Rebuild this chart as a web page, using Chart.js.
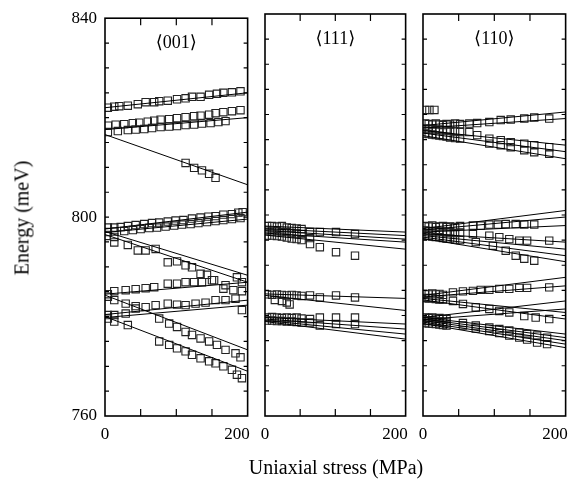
<!DOCTYPE html>
<html>
<head>
<meta charset="utf-8">
<script src="https://cdn.jsdelivr.net/npm/chart.js@4.4.1/dist/chart.umd.min.js"></script>
<style>
  html, body { margin: 0; padding: 0; background: #fff; overflow: hidden; }
  #wrap { position: relative; width: 579px; height: 489px; overflow: hidden; }
  canvas { position: absolute; top: 0; }
  .label { position: absolute; font-family: 'Liberation Serif', 'DejaVu Serif', serif; font-size: 20px; color: #000; white-space: nowrap; }
  #ytitle { left: 22px; top: 218px; transform: translate(-50%, -50%) rotate(-90deg); }
  #xtitle { left: 336px; top: 467px; transform: translate(-50%, -50%); }
</style>
</head>
<body>
<div id="wrap">
  <canvas id="c001" width="279" height="489" style="left:0px"></canvas>
  <canvas id="c111" width="192" height="489" style="left:245px"></canvas>
  <canvas id="c110" width="194" height="489" style="left:403px"></canvas>
  <div class="label" id="ytitle">Energy (meV)</div>
  <div class="label" id="xtitle">Uniaxial stress (MPa)</div>
</div>
<script>
// values: stress in MPa, energy in meV
const panelTitles = ['⟨001⟩', '⟨111⟩', '⟨110⟩'];
const xTickValues = [0, 200];
const xTickLabels = ['0', '200     '];
const yTickValues = [760, 800, 840];
const xMinorTicks = [50, 100, 150];

// fitted lines, energy at 0 MPa and at 200 MPa
const fit001At0   = [822.0, 817.6, 816.6, 797.6, 796.9, 797.1, 796.5, 784.5, 784.3, 780.4, 779.8, 780.0];
const fit001At200 = [825.0, 820.0, 806.5, 801.0, 799.6, 788.3, 786.9, 786.9, 773.3, 783.3, 782.3, 769.0];

const fit111At0   = [797.8, 797.3, 796.9, 796.4, 796.0, 784.3, 784.0, 779.6, 779.3, 779.0, 778.8];
const fit111At200 = [796.6, 795.9, 795.2, 794.6, 793.2, 783.4, 781.0, 778.3, 777.3, 776.3, 775.3];

const fit110At0   = [817.8, 817.3, 816.8, 816.3, 815.8,
                     797.3, 797.0, 796.6, 796.3, 795.9, 795.6, 795.3,
                     784.0, 783.7, 783.4, 783.1,
                     779.6, 779.2, 779.6, 779.3, 779.0, 778.7, 778.4];
const fit110At200 = [820.5, 819.2, 813.9, 812.6, 811.2,
                     800.9, 799.6, 797.9, 794.6, 793.2, 791.9, 790.7,
                     787.6, 785.9, 780.6, 779.3,
                     782.9, 781.3, 776.3, 775.6, 775.0, 774.3, 773.6];

// measured points (squares), one row per branch
const sq001Stress = [
  [4, 13, 20, 32, 46, 57, 69, 76, 88, 101, 113, 122, 134, 146, 157, 166, 178, 190],
  [4, 15, 27, 39, 48, 60, 69, 78, 90, 101, 113, 125, 134, 146, 155, 166, 178, 190],
  [4, 18, 32, 43, 55, 66, 78, 90, 101, 113, 125, 136, 148, 159, 169],
  [113, 125, 136, 146, 155],
  [4, 13, 22, 32, 43, 55, 66, 76, 88, 99, 110, 122, 134, 145, 155, 166, 178, 187, 193],
  [4, 13, 27, 39, 50, 62, 73, 85, 97, 108, 120, 131, 143, 155, 166, 178, 190],
  [2, 13, 13, 32, 46, 57, 71, 88, 101, 113, 122, 134, 143, 153, 169, 185, 192, 166, 180, 192],
  [4, 13, 29, 43, 57, 69, 88, 101, 113, 125, 136, 150],
  [4, 13, 29, 43, 76, 90, 101, 113, 122, 134, 146, 157, 169, 183, 190],
  [4, 13, 29, 43, 57, 71, 88, 101, 113, 127, 141, 155, 169, 183, 192],
  [4, 13, 32, 76, 90, 101, 113, 122, 134, 146, 155, 166, 178, 185, 192]
];
const sq001Energy = [
  [822.0, 822.2, 822.3, 822.4, 822.7, 823.1, 823.1, 823.3, 823.4, 823.7, 823.9, 824.2, 824.2, 824.6, 824.8, 825.0, 825.1, 825.3],
  [818.4, 818.6, 818.7, 818.9, 819.0, 819.2, 819.4, 819.6, 819.7, 819.9, 820.1, 820.3, 820.4, 820.6, 820.9, 821.1, 821.3, 821.5],
  [817.1, 817.3, 817.5, 817.6, 817.7, 817.9, 818.1, 818.2, 818.3, 818.5, 818.6, 818.8, 818.9, 819.1, 819.3],
  [810.9, 809.9, 809.4, 808.7, 807.9],
  [797.9, 797.9, 798.0, 798.2, 798.4, 798.6, 798.8, 798.9, 799.1, 799.3, 799.4, 799.7, 799.9, 800.1, 800.2, 800.5, 800.6, 800.9, 801.0],
  [797.0, 797.1, 797.2, 797.4, 797.6, 797.8, 797.9, 798.1, 798.3, 798.5, 798.6, 798.8, 799.0, 799.2, 799.4, 799.6, 799.8],
  [796.2, 796.0, 794.9, 794.4, 793.3, 793.3, 793.6, 790.9, 791.1, 790.3, 789.9, 788.6, 788.4, 787.3, 786.3, 787.9, 786.9, 785.6, 785.3, 785.1],
  [784.5, 785.1, 785.3, 785.5, 785.7, 785.9, 786.6, 786.6, 786.9, 786.9, 786.9, 787.3],
  [784.0, 783.3, 782.6, 782.1, 779.6, 778.6, 777.9, 776.9, 776.3, 775.6, 775.0, 774.3, 773.3, 772.6, 771.8],
  [780.3, 780.3, 780.6, 781.6, 781.9, 782.3, 782.6, 782.4, 782.3, 782.6, 782.8, 783.3, 783.3, 783.6, 781.3],
  [779.6, 779.0, 778.3, 775.0, 774.3, 773.6, 773.0, 772.3, 771.6, 771.0, 770.6, 770.0, 769.3, 768.3, 767.6]
];

const sq111Stress = [
  [3, 10, 17, 24, 31, 38, 45, 52],
  [3, 10, 17, 24, 31, 38, 45, 52],
  [3, 10, 17, 24, 31, 38, 45, 52],
  [64, 78, 101, 128],
  [64, 78, 101, 128],
  [64],
  [3, 10, 17, 24, 31, 38, 45, 52, 64, 78, 101, 128],
  [14, 24, 31, 35],
  [3, 10, 17, 24, 31, 38, 45, 52],
  [3, 10, 17, 24, 31, 38, 45, 52],
  [64, 78, 101, 128],
  [64, 78, 101, 128]
];
const sq111Energy = [
  [797.8, 797.8, 797.7, 797.8, 797.5, 797.4, 797.3, 797.2],
  [796.9, 796.7, 796.8, 796.6, 796.6, 796.4, 796.3, 796.2],
  [795.9, 795.9, 795.8, 795.7, 795.5, 795.3, 795.2, 795.0],
  [796.6, 796.6, 796.6, 796.2],
  [794.2, 793.6, 792.6, 791.9],
  [795.4],
  [784.2, 784.1, 784.2, 784.1, 784.0, 784.1, 784.0, 783.9, 784.0, 783.6, 784.0, 783.6],
  [783.1, 782.9, 782.6, 782.2],
  [779.6, 779.7, 779.6, 779.5, 779.6, 779.5, 779.6, 779.4],
  [779.0, 779.0, 778.9, 778.9, 778.8, 778.8, 778.7, 778.6],
  [779.3, 779.6, 779.6, 779.6],
  [778.6, 778.0, 778.3, 778.3]
];

const sq110Stress = [
  [3, 9, 16],
  [3, 8, 13, 18, 23, 28, 33, 38, 45, 52],
  [3, 8, 13, 18, 23, 28, 33, 38, 45, 52],
  [3, 8, 13, 18, 23, 28, 33, 38, 45, 52],
  [65, 76, 93, 109, 123, 142, 156, 177],
  [65, 76, 93, 109, 123, 142, 156, 177],
  [93, 109, 123, 142, 156, 177],
  [3, 8, 13, 18, 23, 28, 33, 38, 45, 52],
  [3, 8, 13, 18, 23, 28, 33, 38, 45, 52],
  [3, 8, 13, 18, 23, 28, 33, 38, 45, 52],
  [70, 81, 93, 105, 116, 130, 142, 156],
  [70, 93, 107, 121, 135, 146, 177],
  [74, 98, 116, 130, 142, 156],
  [3, 8, 13, 18, 23, 28],
  [3, 8, 13, 18, 23, 28],
  [42, 56, 70, 81, 93, 107, 121, 135, 146, 177],
  [42, 56, 74, 93, 107, 121, 142, 158, 177],
  [3, 8, 13, 18, 23, 28, 33],
  [3, 8, 13, 18, 23, 28, 33],
  [3, 8, 13, 18, 23, 28, 33],
  [56, 74, 93, 107, 121, 135, 146, 160, 174],
  [56, 74, 93, 107, 121, 135, 146, 160, 174]
];
const sq110Energy = [
  [820.9, 820.9, 820.9],
  [818.2, 818.1, 818.0, 818.2, 818.0, 817.9, 818.1, 818.0, 818.2, 818.1],
  [817.2, 817.0, 817.1, 816.9, 817.0, 816.8, 816.9, 816.7, 816.6, 816.5],
  [816.2, 816.1, 816.0, 815.9, 815.8, 815.7, 815.6, 815.4, 815.3, 815.2],
  [818.2, 818.3, 818.5, 818.9, 819.0, 819.2, 819.4, 819.2],
  [816.5, 815.9, 815.2, 814.9, 814.5, 814.2, 813.9, 813.5],
  [814.2, 813.9, 813.5, 812.9, 812.5, 812.2],
  [797.8, 797.7, 797.9, 797.6, 797.7, 797.8, 797.6, 797.7, 797.6, 797.8],
  [796.9, 796.8, 796.7, 796.8, 796.6, 796.7, 796.5, 796.6, 796.4, 796.5],
  [795.9, 795.8, 795.7, 795.6, 795.6, 795.4, 795.3, 795.3, 795.1, 795.0],
  [797.9, 797.9, 798.1, 798.1, 798.2, 798.2, 798.1, 798.1],
  [796.2, 795.9, 795.6, 795.2, 794.9, 794.9, 794.9],
  [794.6, 793.9, 792.9, 791.9, 791.3, 790.9],
  [784.3, 784.2, 784.4, 784.2, 784.3, 784.1],
  [783.5, 783.4, 783.5, 783.3, 783.2, 783.2],
  [784.6, 784.8, 784.9, 785.1, 785.1, 785.3, 785.3, 785.5, 785.5, 785.6],
  [782.9, 782.3, 781.6, 781.3, 780.9, 780.6, 779.9, 779.6, 779.3],
  [779.6, 779.5, 779.6, 779.4, 779.5, 779.3, 779.3],
  [779.0, 778.9, 779.0, 778.8, 778.8, 778.7, 778.6],
  [778.5, 778.4, 778.4, 778.3, 778.2, 778.1, 778.0],
  [778.5, 778.0, 777.6, 777.3, 777.0, 776.6, 776.3, 776.0, 775.6],
  [778.0, 777.4, 776.9, 776.5, 776.0, 775.6, 775.2, 774.6, 774.3]
];

const serif = "'Liberation Serif', 'DejaVu Serif', serif";

// frame, inward tick marks and the panel label
const frameTicks = {
  id: 'frameTicks',
  afterDatasetsDraw(chart, args, opts) {
    const { ctx, chartArea: a } = chart;
    const x = chart.scales.x, y = chart.scales.y;
    ctx.save();
    ctx.strokeStyle = '#000';
    ctx.lineWidth = 1.2;
    ctx.beginPath();
    xMinorTicks.forEach(v => {
      const px = x.getPixelForValue(v);
      ctx.moveTo(px, a.top); ctx.lineTo(px, a.top + 7);
      ctx.moveTo(px, a.bottom); ctx.lineTo(px, a.bottom - 7);
    });
    for (let v = 765; v < 840; v += 5) {
      const py = y.getPixelForValue(v);
      ctx.moveTo(a.left, py); ctx.lineTo(a.left + 4, py);
      ctx.moveTo(a.right, py); ctx.lineTo(a.right - 4, py);
    }
    ctx.stroke();
    ctx.lineWidth = 1.6;
    ctx.strokeRect(a.left, a.top, a.right - a.left, a.bottom - a.top);
    ctx.fillStyle = '#000';
    ctx.font = '18px ' + serif;
    ctx.textAlign = 'center';
    ctx.textBaseline = 'middle';
    ctx.fillText(opts.title, x.getPixelForValue(100), y.getPixelForValue(835));
    ctx.restore();
  }
};

function points(stressRows, energyRows) {
  const out = [];
  stressRows.forEach((row, r) => row.forEach((s, i) => out.push({ x: s, y: energyRows[r][i] })));
  return out;
}

function fitLines(at0, at200) {
  return at0.map((e, i) => ({
    type: 'line',
    data: [{ x: 0, y: e }, { x: 200, y: at200[i] }],
    borderColor: '#000',
    borderWidth: 1,
    pointRadius: 0,
    fill: false
  }));
}

function makePanel(id, title, fits, squares, showY, padLeft) {
  const datasets = fitLines(fits[0], fits[1]);
  datasets.push({
    type: 'scatter',
    data: points(squares[0], squares[1]),
    pointStyle: 'rect',
    pointRadius: 5.2,
    borderColor: '#222',
    borderWidth: 1.1,
    backgroundColor: 'rgba(0,0,0,0)'
  });
  return new Chart(document.getElementById(id), {
    type: 'scatter',
    data: { datasets: datasets },
    options: {
      responsive: false,
      animation: false,
      devicePixelRatio: 1,
      layout: { padding: { top: 14, bottom: 0, left: padLeft, right: 30 } },
      plugins: {
        legend: { display: false },
        tooltip: { enabled: false },
        frameTicks: { title: title }
      },
      scales: {
        x: {
          type: 'linear',
          min: 0,
          max: 200,
          grid: { display: false, drawTicks: false },
          border: { display: false },
          afterBuildTicks: s => { s.ticks = xTickValues.map(v => ({ value: v })); },
          afterFit: s => { s.height = 73; },
          ticks: {
            font: { family: serif, size: 17 },
            color: '#000',
            padding: 8,
            maxRotation: 0,
            autoSkip: false,
            callback: (v, i) => xTickLabels[i]
          }
        },
        y: {
          type: 'linear',
          min: 760,
          max: 840,
          display: showY,
          grid: { display: false, drawTicks: false },
          border: { display: false },
          afterBuildTicks: s => { s.ticks = yTickValues.map(v => ({ value: v })); },
          afterFit: s => { s.width = showY ? 105 : 0; },
          ticks: {
            font: { family: serif, size: 17 },
            color: '#000',
            padding: 8,
            callback: v => String(v)
          }
        }
      }
    },
    plugins: [frameTicks]
  });
}

makePanel('c001', panelTitles[0], [fit001At0, fit001At200], [sq001Stress, sq001Energy], true, 0);
makePanel('c111', panelTitles[1], [fit111At0, fit111At200], [sq111Stress, sq111Energy], false, 20);
makePanel('c110', panelTitles[2], [fit110At0, fit110At200], [sq110Stress, sq110Energy], false, 20);
</script>
</body>
</html>
